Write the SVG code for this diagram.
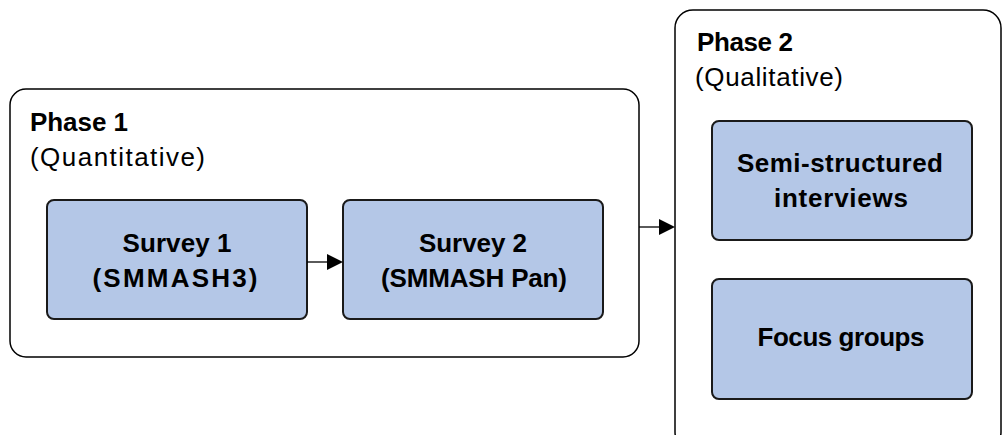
<svg xmlns="http://www.w3.org/2000/svg" width="1003" height="435" viewBox="0 0 1003 435">
<style>
.phase{fill:#fff;stroke:#000;stroke-width:1.5}
.box{fill:#b4c7e7;stroke:#1a1a1a;stroke-width:2}
.t{font-family:"Liberation Sans",Arial,sans-serif;font-size:26px;fill:#000}
.b{font-weight:bold}
.c{text-anchor:middle}
.conn{stroke:#000;stroke-width:1.3;fill:none}
</style>
<rect width="1003" height="435" fill="#fff"/>
<g id="phase1">
<rect class="phase" x="10" y="89" width="629" height="268" rx="16"/>
<text class="t b" x="30" y="131" textLength="98">Phase 1</text>
<text class="t" x="30" y="166" textLength="175">(Quantitative)</text>
</g>
<g id="phase2">
<rect class="phase" x="675" y="10" width="326" height="440" rx="18"/>
<text class="t b" x="697" y="51" textLength="96">Phase 2</text>
<text class="t" x="695" y="86" textLength="148">(Qualitative)</text>
</g>
<g id="survey1">
<rect class="box" x="47" y="200" width="260" height="119" rx="7"/>
<text class="t b c" x="177" y="252" textLength="109">Survey 1</text>
<text class="t b c" x="175" y="287" textLength="165">(SMMASH3)</text>
</g>
<g id="survey2">
<rect class="box" x="343" y="200" width="260" height="119" rx="7"/>
<text class="t b c" x="473" y="252" textLength="108">Survey 2</text>
<text class="t b c" x="474" y="287" textLength="186">(SMMASH Pan)</text>
</g>
<g id="interviews">
<rect class="box" x="712" y="121" width="260" height="119" rx="7"/>
<text class="t b c" x="840" y="172" textLength="206">Semi-structured</text>
<text class="t b c" x="841" y="207" textLength="134">interviews</text>
</g>
<g id="focus">
<rect class="box" x="712" y="279" width="260" height="120" rx="7"/>
<text class="t b c" x="841" y="346" textLength="167">Focus groups</text>
</g>
<g id="connectors">
<line class="conn" x1="307" y1="262" x2="327" y2="262"/>
<path d="M327,254 L343,262 L327,270 Z" fill="#000"/>
<line class="conn" x1="639" y1="227" x2="659" y2="227"/>
<path d="M659,219 L675,227 L659,235 Z" fill="#000"/>
</g>
</svg>
